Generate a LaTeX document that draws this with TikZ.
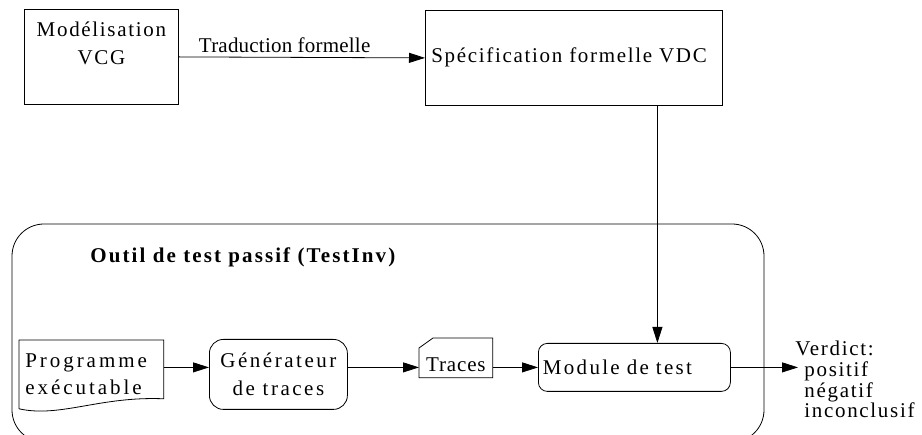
\documentclass[tikz,border=0pt]{standalone}
\usepackage{fontspec}
\setmainfont{Liberation Serif}[LetterSpace=8]
\usetikzlibrary{arrows.meta}
\tikzset{
  flow/.style={-{Triangle[length=16pt,width=10pt]}},
  rbox/.style={draw,rounded corners=10pt,align=center,inner sep=0pt},
  blank/.style={inner sep=0pt,anchor=north west},
  spaced/.style={font=\fontsize{21}{28}\selectfont\addfontfeatures{LetterSpace=#1}},
}
\begin{document}
\begin{tikzpicture}[x=1pt,y=-1pt,line width=.8pt,font=\fontsize{21}{28}\selectfont]
\useasboundingbox (0,0) rectangle (922,435);
\begin{scope}\clip (0,0) rectangle (922,435);
\draw[rounded corners=32pt] (12,224) rectangle (764,442);
\end{scope}
\node[draw,blank,minimum width=154pt,minimum height=95pt] (vcg) at (24,9) {};
\node[anchor=base,align=center,inner sep=0pt] (vcgtxt) at ([yshift=-56pt]vcg.north) {Modélisation\\VCG};
\node[draw,blank,minimum width=297pt,minimum height=95pt] (spec) at (425,10) {};
\node[anchor=base west,inner sep=0pt] (spectxt) at ([xshift=6pt,yshift=-4.5pt]spec.west) {Spécification formelle VDC};
\draw[flow] (vcg.east) -- node[pos=.43,above=1pt,spaced=1] {Traduction formelle} (spec.west);
\node[anchor=base west,inner sep=0pt,font=\fontsize{21}{28}\selectfont\bfseries\addfontfeatures{LetterSpace=10}] (outil) at (90,263) {Outil de test passif (TestInv)};
\node[blank,minimum width=144pt,minimum height=72pt] (prog) at (19,340) {};
\draw ([yshift=4pt]prog.south west) -- (prog.north west) -- (prog.north east) -- ([yshift=14pt]prog.south east)
  .. controls (100,396) and (60,418) .. ([yshift=4pt]prog.south west);
\node[anchor=base west,align=left,inner sep=0pt,font=\fontsize{21}{27}\selectfont\addfontfeatures{LetterSpace=14}] (progtxt) at (25,395) {Programme\\exécutable};
\node[rbox,blank,minimum width=138pt,minimum height=70pt,rounded corners=14pt,spaced=12] (gen) at (209,339) {Générateur\\de traces};
\node[blank,minimum width=73pt,minimum height=39pt] (traces) at (419,338) {};
\draw ([yshift=-10pt]traces.north west) -- ([xshift=14pt]traces.north west) -- (traces.north east) -- (traces.south east) -- (traces.south west) -- cycle;
\node[anchor=base,inner sep=0pt,spaced=4] (tracestxt) at ([yshift=-14pt]traces.center) {Traces};
\node[rbox,blank,minimum width=192pt,minimum height=48pt,text width=183pt,align=left,rounded corners=9pt,spaced=11] (mod) at (538,343) {Module de test};
\node[anchor=base west,align=left,inner sep=0pt,font=\fontsize{21}{20.7}\selectfont] (verdict) at (795,418) {Verdict:\\\hspace{9pt}positif\\\hspace{9pt}négatif\\\hspace{9pt}inconclusif};
\coordinate (tap) at ([xshift=23pt]mod.north);
\draw[flow] (spec.south -| tap) -- (tap);
\draw[flow] (prog.east |- mod.west) -- (gen.west |- mod.west);
\draw[flow] (gen.east |- mod.west) -- (traces.west |- mod.west);
\draw[flow] (traces.east |- mod.west) -- (mod.west);
\draw[flow] (mod.east) -- ([xshift=3pt]verdict.west |- mod.east);
\end{tikzpicture}
\end{document}
